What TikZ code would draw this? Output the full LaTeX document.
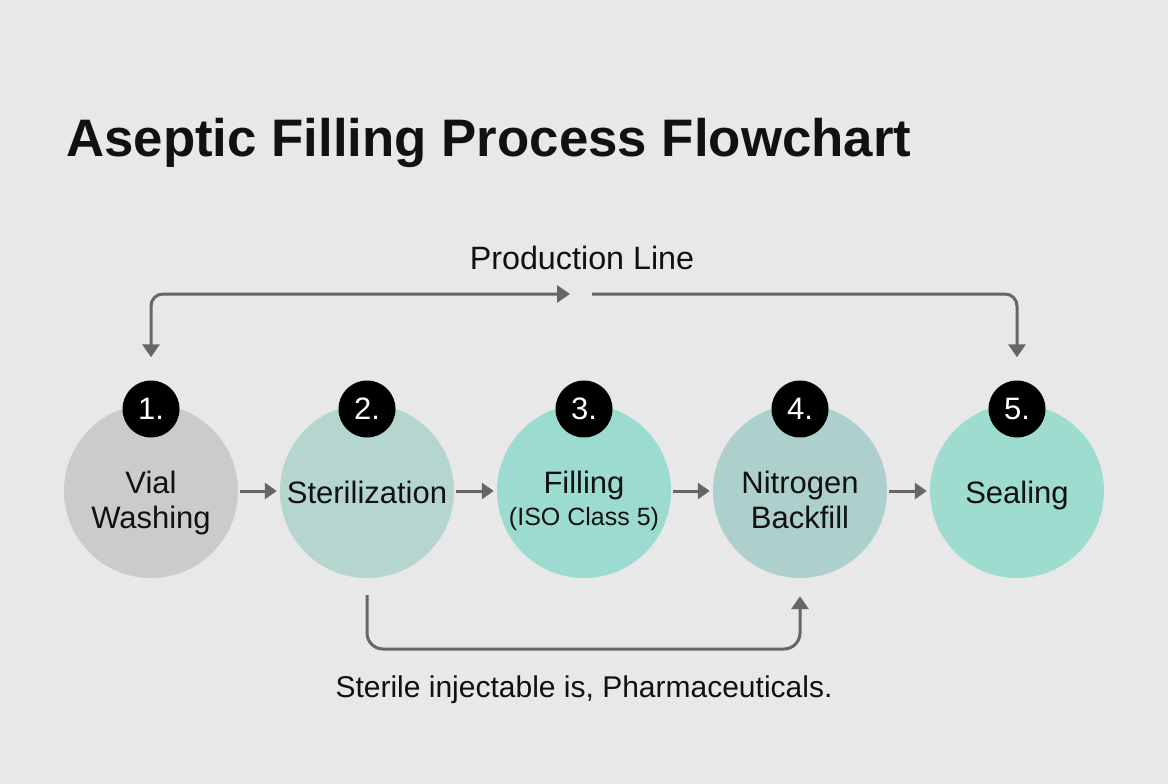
\documentclass[tikz,border=0pt]{standalone}
\usepackage{fontspec}
\setmainfont{Liberation Sans}
\usetikzlibrary{arrows.meta,calc}
\definecolor{bgc}{HTML}{E8E8E8}
\definecolor{arrc}{HTML}{666666}
\definecolor{txtc}{HTML}{111111}
\definecolor{cone}{HTML}{CBCBCB}
\definecolor{ctwo}{HTML}{B4D6CF}
\definecolor{cthree}{HTML}{9CDCD0}
\definecolor{cfour}{HTML}{AED0CC}
\definecolor{cfive}{HTML}{9EDCCF}
\begin{document}
\begin{tikzpicture}[x=1pt,y=-1pt,
  stepcircle/.style={circle,minimum size=174pt,inner sep=0pt,draw=none},
  badge/.style={circle,fill=black,minimum size=57pt,inner sep=0pt,text=white,font=\fontsize{31}{33}\selectfont},
  lbl/.style={anchor=base,text=txtc,font=\fontsize{31}{34}\selectfont,inner sep=0pt},
  smalllbl/.style={anchor=base,text=txtc,font=\fontsize{25}{28}\selectfont,inner sep=0pt},
  conn/.style={draw=arrc,line width=3pt},
  bigtip/.tip={Triangle[length=13pt,width=17pt]},
  smalltip/.tip={Triangle[length=12pt,width=16pt]}
]
\fill[bgc] (0,0) rectangle (1168,784);
\useasboundingbox (0,0) rectangle (1168,784);

% title
\node[anchor=base west,inner sep=0pt,text=txtc,font=\fontsize{52.8}{58}\selectfont\bfseries] (title) at (66,156) {Aseptic Filling Process Flowchart};

% circles
\node[stepcircle,fill=cone] (c1) at (151,491) {};
\node[stepcircle,fill=ctwo] (c2) at (367,491) {};
\node[stepcircle,fill=cthree] (c3) at (584,491) {};
\node[stepcircle,fill=cfour] (c4) at (800,491) {};
\node[stepcircle,fill=cfive] (c5) at (1017,491) {};

% badges
\node[badge] (b1) at (151,409) {1.};
\node[badge] (b2) at (367,409) {2.};
\node[badge] (b3) at (584,409) {3.};
\node[badge] (b4) at (800,409) {4.};
\node[badge] (b5) at (1017,409) {5.};

% labels
\node[lbl] (l1a) at (151,493) {Vial};
\node[lbl] (l1b) at (151,528) {Washing};
\node[lbl] (l2) at (367,503) {Sterilization};
\node[lbl] (l3a) at (584,493) {Filling};
\node[smalllbl] (l3b) at (584,525) {(ISO Class 5)};
\node[lbl] (l4a) at (800,493) {Nitrogen};
\node[lbl] (l4b) at (800,528) {Backfill};
\node[lbl] (l5) at (1017,503) {Sealing};

% arrows between steps
\draw[conn,-smalltip,shorten <=2pt,shorten >=3pt] (c1.east) -- (c2.west);
\draw[conn,-smalltip,shorten <=2pt,shorten >=3pt] (c2.east) -- (c3.west);
\draw[conn,-smalltip,shorten <=2pt,shorten >=3pt] (c3.east) -- (c4.west);
\draw[conn,-smalltip,shorten <=2pt,shorten >=3pt] (c4.east) -- (c5.west);

% production line
\node[anchor=base,inner sep=0pt,text=txtc,font=\fontsize{32.3}{35}\selectfont] (prod) at (582,269) {Production Line};
\coordinate (gapL) at (570,294);
\coordinate (gapR) at (592,294);
\draw[conn,bigtip-bigtip,rounded corners=12pt] ([yshift=23pt]b1.north) |- (gapL);
\draw[conn,-bigtip,rounded corners=12pt] (gapR) -| ([yshift=23pt]b5.north);

% bottom connector
\coordinate (bot) at (584,649);
\draw[conn,-bigtip,rounded corners=16pt] ([yshift=-17pt]c2.south) -- (c2.south |- bot) -| ([yshift=-18pt]c4.south);
\node[anchor=base,inner sep=0pt,text=txtc,font=\fontsize{30}{33}\selectfont] (note) at (584,697) {Sterile injectable is, Pharmaceuticals.};
\end{tikzpicture}
\end{document}
